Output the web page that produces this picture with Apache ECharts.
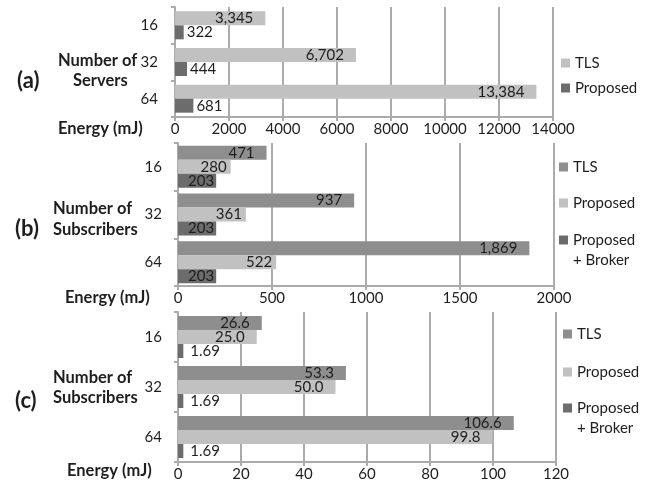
<!DOCTYPE html>
<html>
<head>
<meta charset="utf-8">
<script src="https://cdn.jsdelivr.net/npm/echarts@6/dist/echarts.min.js"></script>
<style>
html,body{margin:0;padding:0;background:#fff;}
#chart{width:661px;height:483px;}
</style>
</head>
<body>
<div id="chart"></div>
<script>
// ---- data ----
const categories = ['16', '32', '64'];
const aTLS = [3345, 6702, 13384];
const aProposed = [322, 444, 681];
const bTLS = [471, 937, 1869];
const bProposed = [280, 361, 522];
const bBroker = [203, 203, 203];
const cTLS = [26.6, 53.3, 106.6];
const cProposed = [25.0, 50.0, 99.8];
const cBroker = [1.69, 1.69, 1.69];
const aTicks = {min: 0, max: 14000, interval: 2000};
const bTicks = {min: 0, max: 2000, interval: 500};
const cTicks = {min: 0, max: 120, interval: 20};

// ---- styles ----
const FONT = 'Lato';
const TXT = '#1e1e1e';
const GRIDC = '#ababab';
const LIGHT = '#c1c1c1';
const MID = '#8e8e8e';
const DARK = '#6c6c6c';

const chart = echarts.init(document.getElementById('chart'), null, {renderer: 'canvas'});

const grids = [
  {left: 175, right: 108, top: 7, height: 110},
  {left: 178, right: 107, top: 143, height: 143},
  {left: 178, right: 105, top: 312, height: 150}
];

function xAx(i, t) {
  return {
    type: 'value', gridIndex: i, min: t.min, max: t.max, interval: t.interval,
    axisLine: {show: true, lineStyle: {color: GRIDC, width: 2}},
    axisTick: {show: true, length: 4, lineStyle: {color: GRIDC, width: 2}},
    splitLine: {show: true, lineStyle: {color: GRIDC, width: 2}},
    axisLabel: {fontFamily: FONT, fontSize: 15, color: TXT, margin: 5,
      formatter: v => String(v)}
  };
}
function yAx(i, margin) {
  return {
    type: 'category', gridIndex: i, data: categories, inverse: true,
    axisLine: {show: true, lineStyle: {color: GRIDC, width: 2}},
    axisTick: {show: true, length: 4, lineStyle: {color: GRIDC, width: 2}},
    axisLabel: {fontFamily: FONT, fontSize: 15, color: TXT, margin: margin}
  };
}
const fmtInt = p => Number(p.value).toLocaleString('en-US');
const fmt1 = p => Number(p.value).toFixed(1);
const fmt2 = p => Number(p.value).toFixed(2);

function bar(name, idx, data, color, pos, dist, fmt) {
  return {
    name: name, type: 'bar', xAxisIndex: idx, yAxisIndex: idx, data: data,
    barWidth: 14, barGap: '0%',
    itemStyle: {color: color},
    label: {show: true, position: pos, distance: dist, formatter: fmt,
      fontFamily: FONT, fontSize: 15, color: TXT},
    silent: true
  };
}
// legend label: strip panel prefix; two-line names get a blank first line so
// that the first text line sits level with the legend square
const legendText = n => {
  const t = n.split(':')[1];
  return t.indexOf('\n') >= 0 ? ' \n' + t : t;
};
const legendBase = {
  orient: 'vertical', itemWidth: 9, itemHeight: 9, icon: 'rect',
  selectedMode: false, padding: 0,
  formatter: legendText,
  textStyle: {fontFamily: FONT, fontSize: 15, color: TXT, lineHeight: 20}
};
function annot(x, y, text, size) {
  return {type: 'text', left: x, top: y, style: {text: text, fontFamily: FONT,
    fontWeight: 'bold', fontSize: size, fill: TXT, textAlign: 'center'}};
}

chart.setOption({
  animation: false,
  grid: grids,
  xAxis: [xAx(0, aTicks), xAx(1, bTicks), xAx(2, cTicks)],
  yAxis: [yAx(0, 17), yAx(1, 16), yAx(2, 16)],
  legend: [
    Object.assign({}, legendBase, {left: 561, top: 53, itemGap: 5,
      data: ['a:TLS', 'a:Proposed']}),
    Object.assign({}, legendBase, {left: 559, top: 157, itemGap: 16,
      data: ['b:TLS', 'b:Proposed']}),
    Object.assign({}, legendBase, {left: 559, top: 210,
      data: ['b:Proposed\n+ Broker']}),
    Object.assign({}, legendBase, {left: 563, top: 324, itemGap: 18,
      data: ['c:TLS', 'c:Proposed']}),
    Object.assign({}, legendBase, {left: 563, top: 378,
      data: ['c:Proposed\n+ Broker']})
  ],
  series: [
    bar('a:TLS', 0, aTLS, LIGHT, 'insideRight', 12, fmtInt),
    bar('a:Proposed', 0, aProposed, DARK, 'right', 3, fmtInt),
    bar('b:TLS', 1, bTLS, MID, 'insideRight', 12, fmtInt),
    bar('b:Proposed', 1, bProposed, LIGHT, 'insideRight', 4, fmtInt),
    bar('b:Proposed\n+ Broker', 1, bBroker, DARK, 'insideRight', 2, fmtInt),
    bar('c:TLS', 2, cTLS, MID, 'insideRight', 12, fmt1),
    bar('c:Proposed', 2, cProposed, LIGHT, 'insideRight', 12, fmt1),
    bar('c:Proposed\n+ Broker', 2, cBroker, DARK, 'right', 7, fmt2)
  ],
  graphic: [
    annot(17, 70, '(a)', 22),
    annot(58, 52, 'Number of', 16.5),
    annot(73, 72, 'Servers', 16.5),
    annot(58, 120, 'Energy (mJ)', 16.5),
    annot(15, 218, '(b)', 22),
    annot(53, 200, 'Number of', 16.5),
    annot(53, 221, 'Subscribers', 16.5),
    annot(65, 289, 'Energy (mJ)', 16.5),
    annot(15, 390, '(c)', 22),
    annot(53, 369, 'Number of', 16.5),
    annot(53, 389, 'Subscribers', 16.5),
    annot(67, 462, 'Energy (mJ)', 16.5)
  ]
});
</script>
</body>
</html>
